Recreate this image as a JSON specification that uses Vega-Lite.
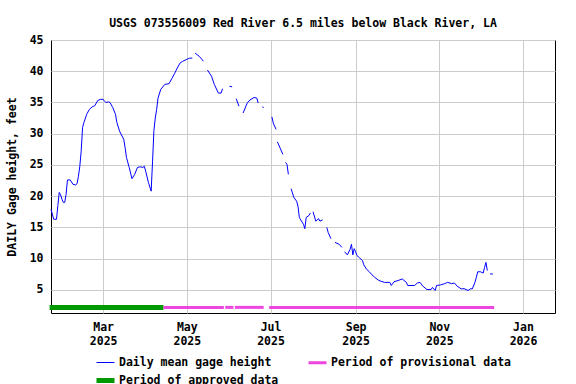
{
  "$schema": "https://vega.github.io/schema/vega-lite/v6.json",
  "width": 504,
  "height": 273,
  "autosize": {"type": "none"},
  "padding": {"left": 51, "top": 40, "right": 21, "bottom": 71},
  "background": "white",
  "title": {
    "text": "USGS 073556009 Red River 6.5 miles below Black River, LA",
    "anchor": "middle",
    "font": "DejaVu Sans Mono",
    "fontSize": 11.5,
    "fontWeight": "bold",
    "color": "black",
    "baseline": "alphabetic",
    "offset": -4.5
  },
  "config": {
    "view": {"stroke": "black", "strokeWidth": 1},
    "axis": {
      "labelFont": "DejaVu Sans Mono",
      "labelFontSize": 11.5,
      "labelFontWeight": "bold",
      "labelColor": "black",
      "labelOverlap": false,
      "titleFont": "DejaVu Sans Mono",
      "titleFontSize": 11.5,
      "titleFontWeight": "bold",
      "titleColor": "black",
      "gridColor": "#cccccc",
      "gridWidth": 1,
      "gridOpacity": 1,
      "domain": false,
      "ticks": false
    },
    "axisY": {"labelOverlap": false, "labelSeparation": 0},
    "legend": {
      "labelFont": "DejaVu Sans Mono",
      "labelFontSize": 11.5,
      "labelFontWeight": "bold",
      "labelColor": "black",
      "labelLimit": 400
    }
  },
  "layer": [
    {
      "data": {
        "values": [
          {"date": "2025-01-22", "v": 17.9, "seg": 1},
          {"date": "2025-01-24", "v": 16.3, "seg": 1},
          {"date": "2025-01-26", "v": 16.3, "seg": 1},
          {"date": "2025-01-27", "v": 18.5, "seg": 1},
          {"date": "2025-01-28", "v": 20.6, "seg": 1},
          {"date": "2025-01-29", "v": 20.2, "seg": 1},
          {"date": "2025-01-30", "v": 19.5, "seg": 1},
          {"date": "2025-01-31", "v": 19.0, "seg": 1},
          {"date": "2025-02-01", "v": 19.0, "seg": 1},
          {"date": "2025-02-02", "v": 20.3, "seg": 1},
          {"date": "2025-02-03", "v": 22.6, "seg": 1},
          {"date": "2025-02-05", "v": 22.6, "seg": 1},
          {"date": "2025-02-07", "v": 21.9, "seg": 1},
          {"date": "2025-02-09", "v": 21.8, "seg": 1},
          {"date": "2025-02-10", "v": 22.0, "seg": 1},
          {"date": "2025-02-11", "v": 23.2, "seg": 1},
          {"date": "2025-02-12", "v": 24.8, "seg": 1},
          {"date": "2025-02-13", "v": 27.2, "seg": 1},
          {"date": "2025-02-14", "v": 31.0, "seg": 1},
          {"date": "2025-02-15", "v": 31.8, "seg": 1},
          {"date": "2025-02-17", "v": 33.1, "seg": 1},
          {"date": "2025-02-19", "v": 33.9, "seg": 1},
          {"date": "2025-02-21", "v": 34.3, "seg": 1},
          {"date": "2025-02-23", "v": 34.5, "seg": 1},
          {"date": "2025-02-25", "v": 35.3, "seg": 1},
          {"date": "2025-02-27", "v": 35.5, "seg": 1},
          {"date": "2025-03-01", "v": 35.5, "seg": 1},
          {"date": "2025-03-02", "v": 35.2, "seg": 1},
          {"date": "2025-03-03", "v": 35.0, "seg": 1},
          {"date": "2025-03-05", "v": 35.1, "seg": 1},
          {"date": "2025-03-06", "v": 35.0, "seg": 1},
          {"date": "2025-03-08", "v": 34.2, "seg": 1},
          {"date": "2025-03-10", "v": 33.1, "seg": 1},
          {"date": "2025-03-11", "v": 31.8, "seg": 1},
          {"date": "2025-03-13", "v": 30.4, "seg": 1},
          {"date": "2025-03-16", "v": 29.1, "seg": 1},
          {"date": "2025-03-17", "v": 27.8, "seg": 1},
          {"date": "2025-03-18", "v": 26.2, "seg": 1},
          {"date": "2025-03-20", "v": 24.6, "seg": 1},
          {"date": "2025-03-22", "v": 22.8, "seg": 1},
          {"date": "2025-03-24", "v": 23.5, "seg": 1},
          {"date": "2025-03-26", "v": 24.6, "seg": 1},
          {"date": "2025-03-28", "v": 24.7, "seg": 1},
          {"date": "2025-03-30", "v": 24.6, "seg": 1},
          {"date": "2025-03-31", "v": 24.8, "seg": 1},
          {"date": "2025-04-01", "v": 24.0, "seg": 1},
          {"date": "2025-04-03", "v": 22.2, "seg": 1},
          {"date": "2025-04-05", "v": 20.8, "seg": 1},
          {"date": "2025-04-06", "v": 25.5, "seg": 1},
          {"date": "2025-04-07", "v": 30.5, "seg": 1},
          {"date": "2025-04-08", "v": 32.5, "seg": 1},
          {"date": "2025-04-09", "v": 33.9, "seg": 1},
          {"date": "2025-04-10", "v": 35.7, "seg": 1},
          {"date": "2025-04-12", "v": 37.1, "seg": 1},
          {"date": "2025-04-15", "v": 37.9, "seg": 1},
          {"date": "2025-04-18", "v": 38.0, "seg": 1},
          {"date": "2025-04-20", "v": 38.8, "seg": 1},
          {"date": "2025-04-22", "v": 39.6, "seg": 1},
          {"date": "2025-04-24", "v": 40.5, "seg": 1},
          {"date": "2025-04-26", "v": 41.3, "seg": 1},
          {"date": "2025-04-28", "v": 41.6, "seg": 1},
          {"date": "2025-05-01", "v": 41.9, "seg": 1},
          {"date": "2025-05-03", "v": 42.1, "seg": 1},
          {"date": "2025-05-05", "v": 42.1, "seg": 1},
          {"date": "2025-05-07", "v": 42.9, "seg": 2},
          {"date": "2025-05-10", "v": 42.4, "seg": 2},
          {"date": "2025-05-12", "v": 41.9, "seg": 2},
          {"date": "2025-05-13", "v": 41.6, "seg": 2},
          {"date": "2025-05-16", "v": 40.2, "seg": 3},
          {"date": "2025-05-19", "v": 39.2, "seg": 3},
          {"date": "2025-05-21", "v": 37.9, "seg": 3},
          {"date": "2025-05-24", "v": 36.5, "seg": 3},
          {"date": "2025-05-26", "v": 36.5, "seg": 3},
          {"date": "2025-05-27", "v": 37.2, "seg": 3},
          {"date": "2025-06-01", "v": 37.6, "seg": 4},
          {"date": "2025-06-03", "v": 37.5, "seg": 4},
          {"date": "2025-06-06", "v": 35.6, "seg": 5},
          {"date": "2025-06-08", "v": 34.4, "seg": 5},
          {"date": "2025-06-11", "v": 33.3, "seg": 6},
          {"date": "2025-06-14", "v": 34.9, "seg": 6},
          {"date": "2025-06-16", "v": 35.4, "seg": 6},
          {"date": "2025-06-19", "v": 35.8, "seg": 6},
          {"date": "2025-06-21", "v": 35.7, "seg": 6},
          {"date": "2025-06-22", "v": 34.9, "seg": 6},
          {"date": "2025-06-25", "v": 34.3, "seg": 7},
          {"date": "2025-06-26", "v": 34.2, "seg": 7},
          {"date": "2025-07-02", "v": 32.7, "seg": 8},
          {"date": "2025-07-03", "v": 31.7, "seg": 8},
          {"date": "2025-07-05", "v": 30.7, "seg": 8},
          {"date": "2025-07-06", "v": 28.7, "seg": 9},
          {"date": "2025-07-08", "v": 27.7, "seg": 9},
          {"date": "2025-07-10", "v": 26.7, "seg": 9},
          {"date": "2025-07-12", "v": 25.4, "seg": 10},
          {"date": "2025-07-13", "v": 25.1, "seg": 10},
          {"date": "2025-07-14", "v": 23.5, "seg": 10},
          {"date": "2025-07-16", "v": 21.2, "seg": 11},
          {"date": "2025-07-18", "v": 19.8, "seg": 11},
          {"date": "2025-07-20", "v": 19.2, "seg": 11},
          {"date": "2025-07-21", "v": 18.4, "seg": 11},
          {"date": "2025-07-22", "v": 16.6, "seg": 11},
          {"date": "2025-07-23", "v": 16.2, "seg": 11},
          {"date": "2025-07-25", "v": 15.5, "seg": 11},
          {"date": "2025-07-26", "v": 14.8, "seg": 11},
          {"date": "2025-07-27", "v": 16.6, "seg": 11},
          {"date": "2025-07-29", "v": 16.9, "seg": 11},
          {"date": "2025-07-30", "v": 17.3, "seg": 11},
          {"date": "2025-08-01", "v": 17.5, "seg": 12},
          {"date": "2025-08-03", "v": 16.0, "seg": 12},
          {"date": "2025-08-05", "v": 16.4, "seg": 12},
          {"date": "2025-08-06", "v": 16.0, "seg": 12},
          {"date": "2025-08-08", "v": 16.2, "seg": 12},
          {"date": "2025-08-11", "v": 15.0, "seg": 13},
          {"date": "2025-08-12", "v": 14.2, "seg": 13},
          {"date": "2025-08-14", "v": 13.2, "seg": 13},
          {"date": "2025-08-17", "v": 12.6, "seg": 14},
          {"date": "2025-08-20", "v": 12.3, "seg": 14},
          {"date": "2025-08-22", "v": 11.8, "seg": 14},
          {"date": "2025-08-24", "v": 11.1, "seg": 15},
          {"date": "2025-08-26", "v": 10.6, "seg": 15},
          {"date": "2025-08-28", "v": 11.5, "seg": 15},
          {"date": "2025-08-29", "v": 12.3, "seg": 15},
          {"date": "2025-08-30", "v": 10.6, "seg": 15},
          {"date": "2025-08-31", "v": 11.6, "seg": 15},
          {"date": "2025-09-01", "v": 11.1, "seg": 15},
          {"date": "2025-09-02", "v": 10.5, "seg": 15},
          {"date": "2025-09-04", "v": 10.1, "seg": 15},
          {"date": "2025-09-06", "v": 9.7, "seg": 15},
          {"date": "2025-09-07", "v": 9.0, "seg": 15},
          {"date": "2025-09-09", "v": 8.3, "seg": 15},
          {"date": "2025-09-11", "v": 7.9, "seg": 15},
          {"date": "2025-09-13", "v": 7.4, "seg": 15},
          {"date": "2025-09-15", "v": 7.0, "seg": 15},
          {"date": "2025-09-18", "v": 6.5, "seg": 15},
          {"date": "2025-09-22", "v": 6.2, "seg": 15},
          {"date": "2025-09-26", "v": 6.2, "seg": 15},
          {"date": "2025-09-27", "v": 5.7, "seg": 15},
          {"date": "2025-09-29", "v": 6.3, "seg": 15},
          {"date": "2025-10-02", "v": 6.5, "seg": 15},
          {"date": "2025-10-05", "v": 6.75, "seg": 15},
          {"date": "2025-10-08", "v": 6.2, "seg": 15},
          {"date": "2025-10-09", "v": 5.7, "seg": 15},
          {"date": "2025-10-14", "v": 5.7, "seg": 15},
          {"date": "2025-10-16", "v": 6.1, "seg": 15},
          {"date": "2025-10-18", "v": 6.2, "seg": 15},
          {"date": "2025-10-20", "v": 5.6, "seg": 15},
          {"date": "2025-10-23", "v": 5.05, "seg": 15},
          {"date": "2025-10-26", "v": 5.05, "seg": 15},
          {"date": "2025-10-27", "v": 5.4, "seg": 15},
          {"date": "2025-10-29", "v": 4.9, "seg": 15},
          {"date": "2025-10-30", "v": 5.7, "seg": 15},
          {"date": "2025-11-02", "v": 5.8, "seg": 15},
          {"date": "2025-11-05", "v": 6.0, "seg": 15},
          {"date": "2025-11-07", "v": 6.2, "seg": 15},
          {"date": "2025-11-10", "v": 6.0, "seg": 15},
          {"date": "2025-11-12", "v": 6.1, "seg": 15},
          {"date": "2025-11-14", "v": 5.6, "seg": 15},
          {"date": "2025-11-17", "v": 5.15, "seg": 15},
          {"date": "2025-11-19", "v": 5.2, "seg": 15},
          {"date": "2025-11-22", "v": 4.9, "seg": 15},
          {"date": "2025-11-24", "v": 5.2, "seg": 15},
          {"date": "2025-11-25", "v": 5.15, "seg": 15},
          {"date": "2025-11-27", "v": 6.2, "seg": 15},
          {"date": "2025-11-28", "v": 7.0, "seg": 15},
          {"date": "2025-11-29", "v": 7.9, "seg": 15},
          {"date": "2025-12-01", "v": 7.9, "seg": 15},
          {"date": "2025-12-03", "v": 7.7, "seg": 15},
          {"date": "2025-12-04", "v": 8.6, "seg": 15},
          {"date": "2025-12-05", "v": 9.4, "seg": 15},
          {"date": "2025-12-06", "v": 8.1, "seg": 15},
          {"date": "2025-12-08", "v": 7.55, "seg": 16},
          {"date": "2025-12-10", "v": 7.55, "seg": 16}
        ]
      },
      "mark": {"type": "line", "interpolate": "linear"},
      "encoding": {
        "x": {
          "field": "date",
          "type": "temporal",
          "title": null,
          "scale": {
            "type": "utc",
            "domain": [
              {"year": 2025, "month": 1, "date": 22, "utc": true},
              {"year": 2026, "month": 1, "date": 24, "hours": 8, "utc": true}
            ],
            "nice": false
          },
          "axis": {
            "values": [
              {"year": 2025, "month": 3, "date": 1, "utc": true},
              {"year": 2025, "month": 5, "date": 1, "utc": true},
              {"year": 2025, "month": 7, "date": 1, "utc": true},
              {"year": 2025, "month": 9, "date": 1, "utc": true},
              {"year": 2025, "month": 11, "date": 1, "utc": true},
              {"year": 2026, "month": 1, "date": 1, "utc": true}
            ],
            "labelExpr": "[utcFormat(datum.value, '%b'), utcFormat(datum.value, '%Y')]",
            "labelPadding": 8,
            "labelLineHeight": 14,
            "labelAlign": "center",
            "labelOverlap": false
          }
        },
        "y": {
          "field": "v",
          "type": "quantitative",
          "title": "DAILY Gage height, feet",
          "scale": {"domain": [1.3, 45], "nice": false, "zero": false},
          "axis": {
            "values": [5, 10, 15, 20, 25, 30, 35, 40, 45],
            "labelPadding": 8,
            "titlePadding": 12,
            "labelOverlap": false,
            "labelSeparation": 0,
            "labelFlush": false
          }
        },
        "detail": {"field": "seg", "type": "nominal"},
        "color": {
          "datum": "Daily mean gage height",
          "type": "nominal",
          "scale": {
            "domain": ["Daily mean gage height", "Period of provisional data", "Period of approved data"],
            "range": ["#0000ff", "#ee47e0", "#009900"]
          },
          "legend": {
            "title": null,
            "orient": "none",
            "legendX": 43,
            "legendY": 312,
            "direction": "horizontal",
            "columns": 2,
            "columnPadding": 23,
            "rowPadding": -1.5,
            "symbolType": "stroke",
            "symbolSize": 324,
            "labelOffset": 2
          }
        },
        "strokeWidth": {
          "datum": "Daily mean gage height",
          "type": "nominal",
          "scale": {
            "domain": ["Daily mean gage height", "Period of provisional data", "Period of approved data"],
            "range": [1, 5, 5]
          },
          "legend": {
            "title": null,
            "orient": "none",
            "legendX": 43,
            "legendY": 312,
            "direction": "horizontal",
            "columns": 2,
            "columnPadding": 23,
            "rowPadding": -1.5,
            "symbolType": "stroke",
            "symbolSize": 324,
            "labelOffset": 2
          }
        }
      }
    },
    {
      "data": {
        "values": [
          {"start": "2025-01-21", "end": "2025-04-14", "period": "Period of approved data"},
          {"start": "2025-04-14", "end": "2025-05-28", "period": "Period of provisional data"},
          {"start": "2025-05-29", "end": "2025-06-04", "period": "Period of provisional data"},
          {"start": "2025-06-05", "end": "2025-06-26", "period": "Period of provisional data"},
          {"start": "2025-06-30", "end": "2025-12-11", "period": "Period of provisional data"}
        ]
      },
      "mark": {"type": "rule", "clip": false},
      "encoding": {
        "x": {
          "field": "start",
          "type": "temporal",
          "title": null,
          "axis": {
            "values": [
              {"year": 2025, "month": 3, "date": 1, "utc": true},
              {"year": 2025, "month": 5, "date": 1, "utc": true},
              {"year": 2025, "month": 7, "date": 1, "utc": true},
              {"year": 2025, "month": 9, "date": 1, "utc": true},
              {"year": 2025, "month": 11, "date": 1, "utc": true},
              {"year": 2026, "month": 1, "date": 1, "utc": true}
            ],
            "labelExpr": "[utcFormat(datum.value, '%b'), utcFormat(datum.value, '%Y')]",
            "labelPadding": 8,
            "labelLineHeight": 14,
            "labelAlign": "center",
            "labelOverlap": false
          }
        },
        "x2": {"field": "end"},
        "y": {
          "datum": 2.2,
          "type": "quantitative",
          "title": "DAILY Gage height, feet",
          "axis": {
            "values": [5, 10, 15, 20, 25, 30, 35, 40, 45],
            "labelPadding": 8,
            "titlePadding": 12,
            "labelOverlap": false,
            "labelSeparation": 0,
            "labelFlush": false
          }
        },
        "color": {"field": "period", "type": "nominal", "legend": null},
        "strokeWidth": {"field": "period", "type": "nominal", "legend": null}
      }
    }
  ]
}
